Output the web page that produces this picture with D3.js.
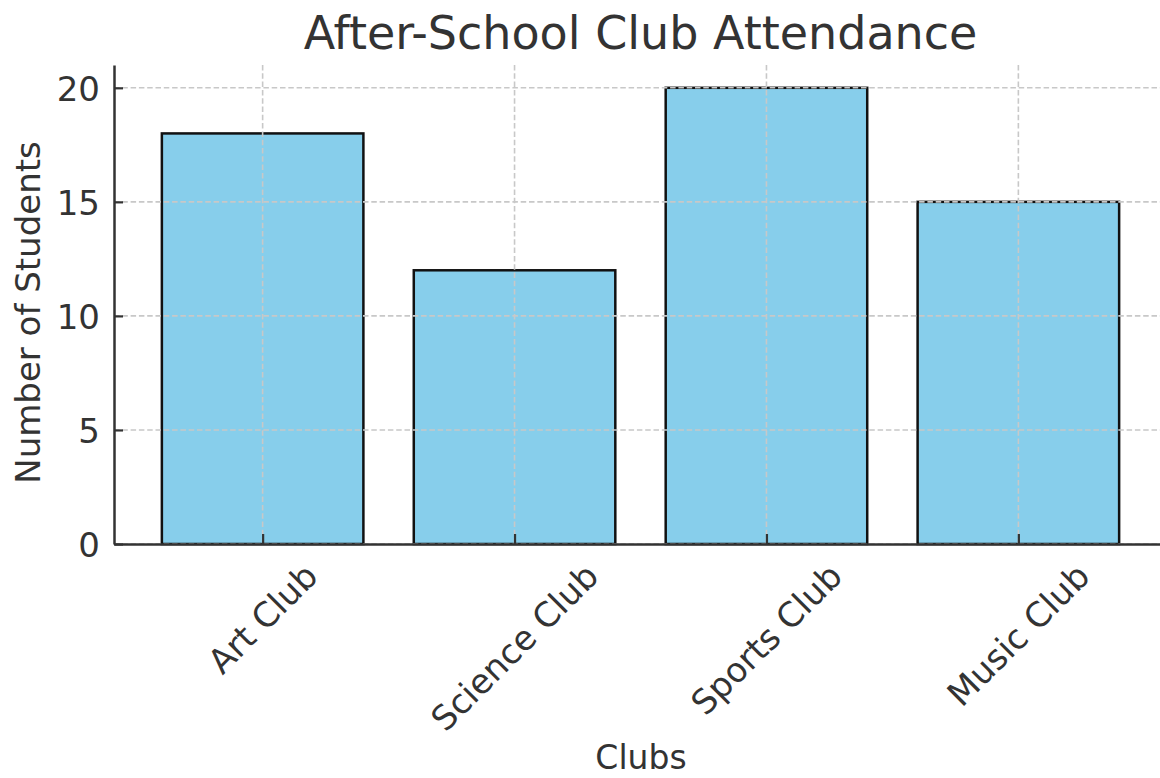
<!DOCTYPE html>
<html>
<head>
<meta charset="utf-8">
<title>After-School Club Attendance</title>
<script src="https://cdn.jsdelivr.net/npm/d3@7"></script>
<style>
  body { margin: 0; background: #fff; }
  svg text { font-family: "DejaVu Sans", sans-serif; fill: #333; }
</style>
</head>
<body>
<svg id="chart"></svg>
<script>
const WIDTH = 1160;
const HEIGHT = 778;

// data
const clubs = ["Art Club", "Science Club", "Sports Club", "Music Club"];
const students = [18, 12, 20, 15];
const yTicks = [0, 5, 10, 15, 20];

const margin = { left: 114, right: -7, top: 65, bottom: 234 };
const plotW = WIDTH - margin.left - margin.right;
const plotH = HEIGHT - margin.top - margin.bottom;

const svg = d3.select("#chart")
    .attr("width", WIDTH)
    .attr("height", HEIGHT);

const g = svg.append("g")
    .attr("transform", `translate(${margin.left},${margin.top})`);

// matplotlib-like linear x: bars at 0..n-1, width 0.8, 5% margins
const n = clubs.length;
const pad = (n - 1 + 0.8) * 0.05;
const x = d3.scaleLinear()
    .domain([-0.4 - pad, n - 1 + 0.4 + pad])
    .range([0, plotW]);

const y = d3.scaleLinear()
    .domain([0, 21])
    .range([plotH, 0]);

// bars
g.selectAll("rect.bar")
    .data(students)
    .enter()
    .append("rect")
    .attr("class", "bar")
    .attr("x", (d, i) => x(i - 0.4))
    .attr("width", x(0.4) - x(-0.4))
    .attr("y", d => y(d))
    .attr("height", d => y(0) - y(d))
    .attr("fill", "#87CEEB")
    .attr("stroke", "#111")
    .attr("stroke-width", 2.5);

// grid drawn over bars
const grid = g.append("g")
    .attr("stroke", "#c8c8c8")
    .attr("stroke-width", 1.6)
    .attr("stroke-dasharray", "5.5,2.8");

grid.selectAll("line.hg")
    .data(yTicks)
    .enter()
    .append("line")
    .attr("x1", 0).attr("x2", plotW)
    .attr("y1", d => y(d)).attr("y2", d => y(d));

grid.selectAll("line.vg")
    .data(clubs)
    .enter()
    .append("line")
    .attr("x1", (d, i) => x(i)).attr("x2", (d, i) => x(i))
    .attr("y1", 0).attr("y2", plotH);

// y axis, ticks pointing inward
const yAxis = g.append("g")
    .call(d3.axisLeft(y).tickValues(yTicks).tickSizeInner(-9).tickSizeOuter(0).tickPadding(14));
yAxis.select(".domain").attr("stroke", "#333").attr("stroke-width", 2.5);
yAxis.selectAll(".tick line").attr("stroke", "#333").attr("stroke-width", 2.2);
yAxis.selectAll(".tick text")
    .attr("font-size", 34)
    .attr("dy", "0.36em");

// x axis line and inward ticks
const xAxis = g.append("g")
    .attr("transform", `translate(0,${plotH})`)
    .call(d3.axisBottom(x).tickValues(d3.range(n)).tickSizeInner(-10).tickSizeOuter(0).tickFormat(""));
xAxis.select(".domain").attr("stroke", "#333").attr("stroke-width", 2.5);
xAxis.selectAll(".tick line").attr("stroke", "#333").attr("stroke-width", 2.2);

// rotated tick labels, bbox centred on tick
const labelTop = plotH + 15;
const labels = g.append("g").selectAll("text")
    .data(clubs)
    .enter()
    .append("text")
    .attr("font-size", 34)
    .attr("text-anchor", "middle")
    .attr("dominant-baseline", "central")
    .text(d => d);
labels.attr("transform", function(d, i) {
    const w = this.getComputedTextLength();
    const h = 34 * 0.9;
    const cy = labelTop + (w + h) / (2 * Math.SQRT2);
    return `translate(${x(i)},${cy}) rotate(-45)`;
});

// title and axis labels
svg.append("text")
    .attr("x", margin.left + plotW / 2)
    .attr("y", 49)
    .attr("text-anchor", "middle")
    .attr("font-size", 46)
    .text("After-School Club Attendance");

svg.append("text")
    .attr("x", 641)
    .attr("y", 769)
    .attr("text-anchor", "middle")
    .attr("font-size", 33)
    .text("Clubs");

svg.append("text")
    .attr("transform", `translate(40,${margin.top + plotH / 2 + 8}) rotate(-90)`)
    .attr("text-anchor", "middle")
    .attr("font-size", 34)
    .text("Number of Students");
</script>
</body>
</html>
